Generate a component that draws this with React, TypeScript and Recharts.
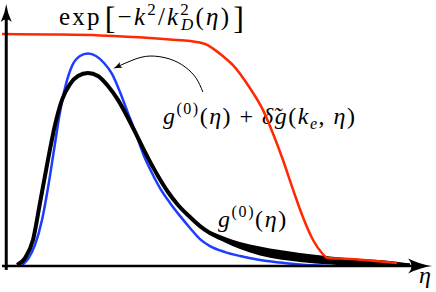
import { Area, ComposedChart, Line, ReferenceLine, XAxis, YAxis } from 'recharts'

// damping factor exp[-k^2/k_D^2(eta)]
const dampEta = [-0.1, 1.03, 2.21, 3.39, 3.86, 4.34, 4.57, 4.74, 4.88, 5.11, 5.35, 5.75, 6.06, 6.29, 6.53, 6.77, 7.0, 7.24, 7.45, 7.59, 7.88, 8.58, 9.22]
const dampVal = [1.0, 0.998, 0.994, 0.983, 0.976, 0.970, 0.963, 0.953, 0.937, 0.905, 0.866, 0.767, 0.672, 0.573, 0.457, 0.328, 0.211, 0.112, 0.056, 0.034, 0.032, 0.024, 0.013]

// g0 + delta g (blue)
const pertEta = [0.372, 0.513, 0.679, 0.844, 0.985, 1.127, 1.269, 1.41, 1.552, 1.74, 1.929, 2.118, 2.307, 2.496, 2.684, 2.873, 3.062, 3.251, 3.439, 3.628, 3.864, 4.1, 4.336, 4.572, 4.808, 5.162, 5.516, 5.988, 6.46, 6.932, 7.639]
const pertVal = [0.004, 0.03, 0.091, 0.198, 0.336, 0.5, 0.664, 0.784, 0.862, 0.905, 0.916, 0.905, 0.875, 0.828, 0.75, 0.659, 0.569, 0.474, 0.401, 0.336, 0.272, 0.216, 0.164, 0.116, 0.086, 0.06, 0.043, 0.026, 0.015, 0.006, 0]

// g0 (black)
const baseEta = [0.254, 0.443, 0.631, 0.797, 0.962, 1.151, 1.316, 1.505, 1.693, 1.929, 2.165, 2.401, 2.637, 2.873, 3.109, 3.345, 3.581, 3.817, 4.053, 4.336, 4.572, 4.808, 5.162, 5.516, 5.988, 6.46, 6.932, 7.639, 8.347, 9.055, 9.527]
const baseVal = [0.004, 0.034, 0.112, 0.272, 0.435, 0.608, 0.716, 0.784, 0.819, 0.832, 0.819, 0.776, 0.716, 0.638, 0.552, 0.466, 0.388, 0.319, 0.263, 0.211, 0.172, 0.142, 0.112, 0.088, 0.065, 0.05, 0.037, 0.024, 0.015, 0.009, 0.002]

// the thick tail of g0
const tailEta = [4.808, 5.516, 5.988, 6.932, 7.639, 8.347, 9.055, 9.527]
const tailLow = [0.134, 0.073, 0.045, 0.017, 0.006, 0, 0, 0]
const tailHigh = [0.151, 0.103, 0.084, 0.056, 0.041, 0.03, 0.022, 0.011]

// annotation arrow pointing at the blue peak
const noteEta = [4.64, 4.48, 4.22, 3.86, 3.39, 2.99, 2.61]
const noteVal = [0.75, 0.81, 0.858, 0.892, 0.905, 0.888, 0.858]

const zip = (xs: number[], ys: number[]) => xs.map((x, i) => ({ x, y: ys[i] }))

const damp = zip(dampEta, dampVal)
const pert = zip(pertEta, pertVal)
const base = zip(baseEta, baseVal)
const note = zip(noteEta, noteVal)
const tail = tailEta.map((x, i) => ({ x, band: [tailLow[i], tailHigh[i]] }))

const serif = { fontFamily: "'Liberation Serif', 'DejaVu Serif', serif" }

export default function App() {
  return (
    <div style={{ position: 'absolute', left: 0, top: 0, background: '#fff' }}>
      <ComposedChart width={436} height={292} margin={{ top: 5, right: 6, bottom: 26, left: 2 }}>
        <defs>
          <marker id='tipX' markerUnits='userSpaceOnUse' viewBox='-12 -8 28 16' refX={0} refY={0} markerWidth={28} markerHeight={16} orient='auto'>
            <path d='M14,0 Q2,-1.5 -10,-7.5 Q-3,0 -10,7.5 Q2,1.5 14,0 Z' fill='#000' />
          </marker>
          <marker id='tipY' markerUnits='userSpaceOnUse' viewBox='-10 -6 22 12' refX={0} refY={0} markerWidth={22} markerHeight={12} orient='auto'>
            <path d='M10,0 Q1,-1.2 -8,-5.5 Q-2.5,0 -8,5.5 Q1,1.2 10,0 Z' fill='#000' />
          </marker>
          <marker id='tipNote' markerUnits='userSpaceOnUse' viewBox='-6 -4 12 8' refX={0} refY={0} markerWidth={12} markerHeight={8} orient='auto'>
            <path d='M4,0 Q0,-0.8 -5,-3.2 Q-2,0 -5,3.2 Q0,0.8 4,0 Z' fill='#000' />
          </marker>
        </defs>
        <XAxis type='number' dataKey='x' domain={[-0.1, 10]} allowDataOverflow hide />
        <YAxis type='number' domain={[0, 1.125]} allowDataOverflow hide />
        <Line data={pert} dataKey='y' type='monotone' stroke='#1c3cff' strokeWidth={2.5} dot={false} isAnimationActive={false} />
        <Area data={tail} dataKey='band' type='monotone' stroke='none' fill='#000' fillOpacity={1} isAnimationActive={false} />
        <Line data={base} dataKey='y' type='monotone' stroke='#000' strokeWidth={4} dot={false} isAnimationActive={false} />
        <Line data={damp} dataKey='y' type='monotone' stroke='#ff2800' strokeWidth={2.5} dot={false} isAnimationActive={false} />
        <Line data={note} dataKey='y' type='natural' stroke='#000' strokeWidth={1} dot={false} markerEnd='url(#tipNote)' isAnimationActive={false} />
        <ReferenceLine segment={[{ x: -0.1, y: 0 }, { x: 9.72, y: 0 }]} stroke='#000' strokeWidth={2.5} markerEnd='url(#tipX)' ifOverflow='visible' />
        <ReferenceLine segment={[{ x: 0, y: -0.017 }, { x: 0, y: 1.086 }]} stroke='#000' strokeWidth={3} markerEnd='url(#tipY)' ifOverflow='visible' />
        <text x={59} y={25} style={serif} fontSize={25} letterSpacing={2.2} fill='#000'>
          <tspan>exp</tspan>
          <tspan dx={3} dy={4} fontSize={32}>[</tspan>
          <tspan dy={-4}>−</tspan>
          <tspan fontStyle='italic'>k</tspan>
          <tspan dy={-10} fontSize={17}>2</tspan>
          <tspan dy={10}>/</tspan>
          <tspan fontStyle='italic'>k</tspan>
          <tspan dy={-10} fontSize={17}>2</tspan>
          <tspan dx={-10} dy={15} fontSize={17} fontStyle='italic'>D</tspan>
          <tspan dy={-5}>(</tspan>
          <tspan fontStyle='italic'>η</tspan>
          <tspan>)</tspan>
          <tspan dx={2} dy={4} fontSize={32}>]</tspan>
        </text>
        <text x={163} y={124} style={serif} fontSize={24} letterSpacing={1.5} fill='#000'>
          <tspan fontStyle='italic'>g</tspan>
          <tspan dy={-10} fontSize={16}>(0)</tspan>
          <tspan dy={10}>(</tspan>
          <tspan fontStyle='italic'>η</tspan>
          <tspan>) + </tspan>
          <tspan fontStyle='italic'>δ̃g</tspan>
          <tspan>(</tspan>
          <tspan fontStyle='italic'>k</tspan>
          <tspan dy={5} fontSize={16} fontStyle='italic'>e</tspan>
          <tspan dy={-5}>, </tspan>
          <tspan fontStyle='italic'>η</tspan>
          <tspan>)</tspan>
        </text>
        <text x={218} y={227} style={serif} fontSize={24} letterSpacing={1.6} fill='#000'>
          <tspan fontStyle='italic'>g</tspan>
          <tspan dy={-10} fontSize={16}>(0)</tspan>
          <tspan dy={10}>(</tspan>
          <tspan fontStyle='italic'>η</tspan>
          <tspan>)</tspan>
        </text>
        <text x={419} y={283} style={serif} fontSize={24} fontStyle='italic' fill='#000'>η</text>
      </ComposedChart>
    </div>
  )
}
